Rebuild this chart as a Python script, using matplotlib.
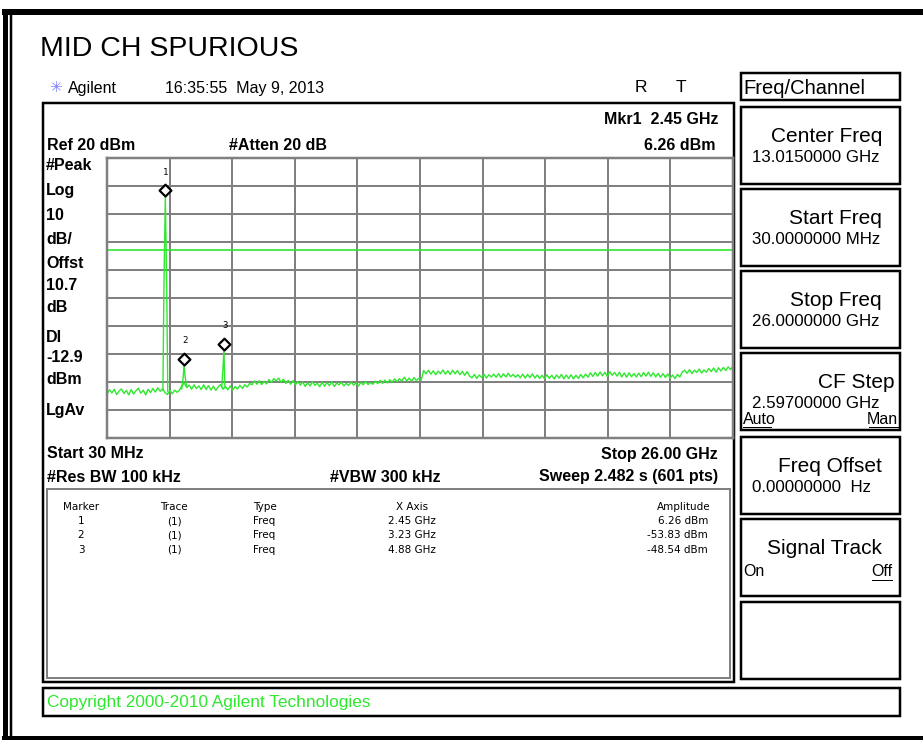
import numpy as np
import matplotlib
matplotlib.use("Agg")
import matplotlib.pyplot as plt
from matplotlib.path import Path
from matplotlib.patches import Rectangle

# Instrument settings
START_GHZ = 0.03
STOP_GHZ = 26.0
REF_DBM = 20
DB_PER_DIV = 10
DISPLAY_LINE_DBM = -12.9

# Noise floor, about 0.1 GHz per sample (dBm)
floor_dbm = [
    -64.4, -62.8, -63.9, -62.6, -64.5, -63.2, -62.5, -64.1, -63.0, -64.6,
    -62.7, -64.3, -63.1, -62.2, -64.0, -62.9, -64.6, -62.6, -63.8, -62.3,
    -63.6, -62.1, -63.3, -62.4, -63.8, -64.5, -63.0, -64.2, -62.9, -63.7,
    -62.9, -61.2, -60.4, -62.0, -61.1, -62.6, -61.0, -62.3, -61.4, -62.7,
    -61.0, -62.7, -61.3, -62.9, -61.5, -63.0, -61.8, -60.9, -62.6, -61.7,
    -62.8, -61.4, -62.9, -61.6, -62.5, -61.2, -62.3, -61.0, -61.8, -60.5,
    -61.0, -59.6, -60.8, -59.5, -60.9, -59.8, -60.7, -59.1, -60.2, -58.8,
    -59.6, -58.6, -60.1, -59.0, -60.5, -59.4, -60.8, -59.5, -60.9, -59.9,
    -61.1, -60.0, -61.6, -60.2, -61.4, -59.9, -61.2, -60.4, -61.7, -60.1,
    -61.5, -60.2, -61.3, -59.9, -61.6, -60.4, -61.0, -60.1, -61.4, -60.5,
    -61.2, -60.0, -61.1, -60.3, -61.5, -60.1, -61.0, -59.8, -60.9, -60.2,
    -60.8, -59.7, -60.6, -59.4, -60.5, -59.3, -60.4, -59.2, -60.1, -58.9,
    -59.9, -58.8, -59.7, -58.3, -59.6, -58.6, -59.8, -58.4, -59.5, -58.7,
    -59.4, -55.9, -57.1, -55.8, -57.2, -56.0, -57.4, -56.1, -57.0, -55.7,
    -57.2, -56.0, -57.3, -55.8, -57.1, -55.9, -57.4, -56.2, -57.6, -56.3,
    -57.9, -58.5, -57.3, -58.7, -57.5, -58.4, -57.2, -58.6, -57.4, -58.2,
    -57.2, -58.3, -57.0, -58.4, -57.1, -58.2, -56.9, -58.1, -57.3, -58.3,
    -57.4, -58.5, -57.2, -58.6, -57.3, -58.4, -57.1, -58.6, -57.5, -58.7,
    -57.6, -58.8, -57.4, -58.7, -57.6, -58.9, -57.5, -58.6, -57.3, -58.9,
    -57.5, -58.8, -57.4, -58.9, -57.6, -58.7, -57.3, -58.5, -57.2, -58.3,
    -56.7, -58.0, -56.6, -57.9, -56.4, -57.8, -56.5, -58.0, -56.3, -57.6,
    -56.6, -57.9, -56.5, -58.2, -56.8, -58.3, -56.7, -58.1, -57.0, -58.2,
    -56.8, -58.1, -56.6, -57.9, -56.5, -58.0, -56.7, -58.2, -56.9, -58.3,
    -57.0, -58.4, -57.1, -58.6, -57.5, -58.8, -57.3, -58.2, -56.4, -55.8,
    -56.9, -55.6, -57.0, -55.8, -56.6, -55.4, -56.8, -55.7, -56.5, -55.2,
    -56.3, -55.0, -56.5, -54.9, -56.1, -54.8, -55.9, -54.6, -55.6, -54.4,
]

# Spikes around each marker (GHz, dBm)
spike1_f = [2.35, 2.39, 2.45, 2.51, 2.55]
spike1_dbm = [-63.0, -27.0, 6.26, -27.5, -63.4]
spike2_f = [3.13, 3.19, 3.23, 3.27, 3.33]
spike2_dbm = [-62.5, -58.3, -53.83, -58.0, -61.5]
spike3_f = [4.79, 4.84, 4.88, 4.92, 4.97]
spike3_dbm = [-61.9, -55.3, -48.54, -61.5, -62.0]

marker_ids = ["1", "2", "3"]
marker_ghz = [2.45, 3.23, 4.88]
marker_dbm = [6.26, -53.83, -48.54]
marker_x_text = ["2.45 GHz", "3.23 GHz", "4.88 GHz"]
marker_amp_text = ["6.26 dBm", "-53.83 dBm", "-48.54 dBm"]

softkeys = [
    ("Center Freq", "13.0150000 GHz"),
    ("Start Freq", "30.0000000 MHz"),
    ("Stop Freq", "26.0000000 GHz"),
    ("CF Step", "2.59700000 GHz"),
    ("Freq Offset", "0.00000000  Hz"),
    ("Signal Track", ""),
    ("", ""),
]

GREEN = "#2ee82e"
GRID = "#808080"
FONT = "Liberation Sans"

W, H = 923, 740
fig = plt.figure(figsize=(W / 100, H / 100), dpi=100)
fig.patch.set_facecolor("white")

# full-figure axes in pixel units for the screen furniture
scr = fig.add_axes([0, 0, 1, 1])
scr.set_xlim(0, W)
scr.set_ylim(H, 0)
scr.axis("off")

PX = 0.72  # one pixel in points


def box(x0, y0, x1, y1, lw=2.5, color="black"):
    scr.add_patch(Rectangle((x0, y0), x1 - x0, y1 - y0, fill=False,
                            ec=color, lw=lw * PX))


def txt(x, y, s, size=12, ha="left", weight="normal", color="black", **kw):
    kw.setdefault("family", FONT)
    scr.text(x, y, s, fontsize=size, ha=ha, va="center", weight=weight,
             color=color, **kw)


# outer frame
scr.plot([2, W], [12, 12], color="black", lw=6 * PX, solid_capstyle="butt")
scr.plot([4.5, 4.5], [9, H], color="black", lw=5 * PX, solid_capstyle="butt")
scr.plot([10.5, 10.5], [15, H], color="black", lw=2.5 * PX, solid_capstyle="butt")
scr.plot([2, W], [738, 738], color="black", lw=4 * PX, solid_capstyle="butt")

txt(40, 49, "MID CH SPURIOUS", size=20.5)
txt(55, 88, "\u2733", size=11, ha="center", color="#8080ff",
    family=["DejaVu Sans", "Noto Sans CJK SC"])
txt(68, 88, "Agilent", size=11.5)
txt(165, 88, "16:35:55  May 9, 2013", size=11.5)
txt(641, 88, "R", size=12.5, ha="center")
txt(681, 88, "T", size=12.5, ha="center")

# main display panel
box(43, 103, 734, 682, lw=2.5)
box(47, 489, 730, 678, lw=2, color=GRID)

txt(718, 119, "Mkr1  2.45 GHz", size=11.5, ha="right", weight="bold")
txt(47, 145, "Ref 20 dBm", size=11.5, weight="bold")
txt(229, 145, "#Atten 20 dB", size=11.5, weight="bold")
txt(716, 145, "6.26 dBm", size=11.5, ha="right", weight="bold")

side = [("#Peak", 166), ("Log", 191), ("10", 215), ("dB/", 240), ("Offst", 264),
        ("10.7", 285), ("dB", 307), ("DI", 338), ("-12.9", 358), ("dBm", 380),
        ("LgAv", 411)]
for s, y in side:
    txt(46, y, s, size=11.5, weight="bold")

txt(47, 454, "Start 30 MHz", size=11.5, weight="bold")
txt(718, 454, "Stop 26.00 GHz", size=11.5, ha="right", weight="bold")
txt(47, 477, "#Res BW 100 kHz", size=11.5, weight="bold")
txt(330, 477, "#VBW 300 kHz", size=11.5, weight="bold")
txt(718, 477, "Sweep 2.482 s (601 pts)", size=11.5, ha="right", weight="bold")

# marker table
TF = dict(size=7.5, family="DejaVu Sans")
for x, s, ha in [(81, "Marker", "center"), (174, "Trace", "center"),
                 (253, "Type", "left"), (412, "X Axis", "center"),
                 (684, "Amplitude", "center")]:
    scr.text(x, 507, s, ha=ha, va="center", **TF)
for i, mid in enumerate(marker_ids):
    y = 521 + 14.5 * i
    scr.text(81, y, mid, ha="center", va="center", **TF)
    scr.text(174, y, "(1)", ha="center", va="center", **TF)
    scr.text(253, y, "Freq", ha="left", va="center", **TF)
    scr.text(412, y, marker_x_text[i], ha="center", va="center", **TF)
    scr.text(708, y, marker_amp_text[i], ha="right", va="center", **TF)

# soft keys
box(741, 73, 900, 100, lw=2.5)
txt(743, 88, "Freq/Channel", size=14.5)
key_tops = [107, 189, 271, 353, 437, 519, 602]
for (label, value), top in zip(softkeys, key_tops):
    box(741, top, 900, top + 77, lw=2.5)
    if label:
        right = 894 if label == "CF Step" else 882
        txt(right, top + 29, label, size=15, ha="right")
    if value:
        txt(752, top + 51, value, size=12.2)
txt(743, 419, "Auto", size=11.5)
scr.plot([743, 771], [427, 427], color="black", lw=1 * PX)
txt(898, 419, "Man", size=11.5, ha="right")
scr.plot([869, 898], [427, 427], color="black", lw=1 * PX)
txt(743, 572, "On", size=11.5)
txt(892, 572, "Off", size=11.5, ha="right")
scr.plot([872, 892], [580, 580], color="black", lw=1 * PX)

# copyright bar
box(43, 688, 900, 716, lw=2.5)
txt(47, 703, "Copyright 2000-2010 Agilent Technologies", size=12.4, color=GREEN)

# spectrum plot
L, R, T, B = 107, 733, 158, 438
ax = fig.add_axes([L / W, 1 - B / H, (R - L) / W, (B - T) / H])
ax.set_xlim(START_GHZ, STOP_GHZ)
ax.set_ylim(REF_DBM - 10 * DB_PER_DIV, REF_DBM)
ax.set_xticks(np.linspace(START_GHZ, STOP_GHZ, 11))
ax.set_yticks(np.arange(REF_DBM - 10 * DB_PER_DIV, REF_DBM + 1, DB_PER_DIV))
ax.tick_params(length=0, labelbottom=False, labelleft=False)
ax.grid(True, color=GRID, lw=2 * PX)
ax.set_axisbelow(True)
for sp in ax.spines.values():
    sp.set_color(GRID)
    sp.set_linewidth(2.5 * PX)

freq = np.linspace(START_GHZ, STOP_GHZ, len(floor_dbm))
ax.plot(freq, floor_dbm, color=GREEN, lw=1.0)
for f, d in [(spike1_f, spike1_dbm), (spike2_f, spike2_dbm), (spike3_f, spike3_dbm)]:
    ax.plot(f, d, color=GREEN, lw=1.0)
ax.axhline(DISPLAY_LINE_DBM, color=GREEN, lw=1.2)

# diamond marker with its bottom tip on the peak
diamond = Path([(0, 0), (-1, 1), (0, 2), (1, 1), (0, 0)],
               [Path.MOVETO, Path.LINETO, Path.LINETO, Path.LINETO, Path.CLOSEPOLY])
ax.plot(marker_ghz, marker_dbm, ls="none", marker=diamond, ms=17,
        mfc="white", mec="black", mew=1.6, zorder=5)
for mid, f, d in zip(marker_ids, marker_ghz, marker_dbm):
    ax.annotate(mid, (f, d), xytext=(0.5, 17.5), textcoords="offset points",
                ha="center", va="center", fontsize=6.5, family="DejaVu Sans Mono",
                annotation_clip=False)

fig.savefig("out.png", dpi=100, facecolor="white")
